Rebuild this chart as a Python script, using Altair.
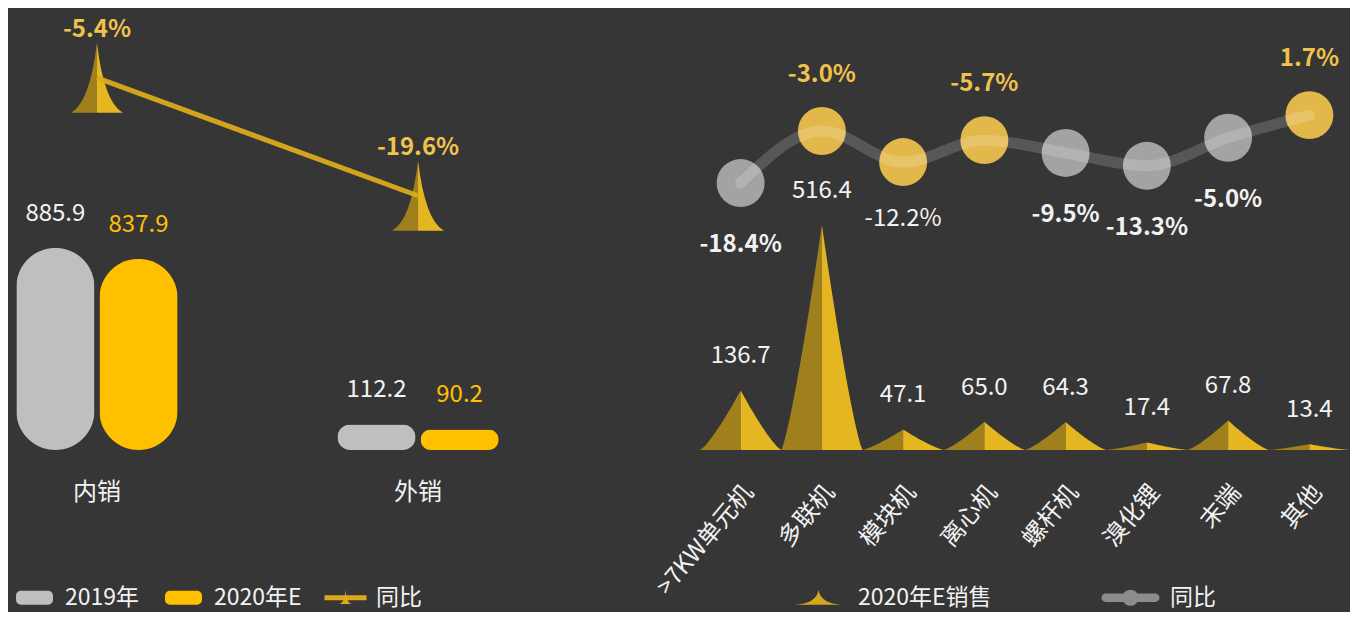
import altair as alt
import pandas as pd

# ---------------- data ----------------
cats_left = ["内销", "外销"]
sales_2019 = [885.9, 112.2]
sales_2020e = [837.9, 90.2]
yoy_left = [-5.4, -19.6]
series_left = ["2019年", "2020年E", "同比"]

cats_right = [">7KW单元机", "多联机", "模块机", "离心机", "螺杆机", "溴化锂", "末端", "其他"]
sales_right = [136.7, 516.4, 47.1, 65.0, 64.3, 17.4, 67.8, 13.4]
yoy_right = [-18.4, -3.0, -12.2, -5.7, -9.5, -13.3, -5.0, 1.7]
series_right = ["2020年E销售", "同比"]

# styling choices (which circles are gold / where labels sit)
gold_points = ["多联机", "模块机", "离心机", "其他"]
labels_above = ["多联机", "离心机", "其他"]
labels_plain = ["模块机"]

# ---------------- style ----------------
FONT = "Noto Sans CJK SC"
BG = "#363636"
WHITE = "#f2f2f2"
GRAY = "#bfbfbf"
YELLOW = "#ffc000"
GOLD_LABEL = "#f0c24b"
DARK_GOLD = "#a0801c"
BRIGHT_GOLD = "#e4b622"
LINE_GOLD = "#dcaa1c"
CIRCLE_GOLD = "#e2b84b"
CIRCLE_GRAY = "#a3a3a3"

LEFT_HALF = "M-0.74,1 Q-0.2,0.7 0,-1 L0,1 Z"
RIGHT_HALF = "M0.74,1 Q0.2,0.7 0,-1 L0,1 Z"
PILL = ("M-1.94,-1 L1.94,-1 A0.7,0.7 0 0 1 2.64,-0.3 L2.64,0.3 A0.7,0.7 0 0 1 1.94,1 "
        "L-1.94,1 A0.7,0.7 0 0 1 -2.64,0.3 L-2.64,-0.3 A0.7,0.7 0 0 1 -1.94,-1 Z")
SPIKE_LINE = "M-3,-0.36 L3,-0.36 L3,0.36 L-3,0.36 Z M-0.9,0.9 Q-0.1,0.75 0,-1.1 Q0.1,0.75 0.9,0.9 Z"
SPIKE = "M-3.43,1 Q-0.3,0.85 0,-1.1 Q0.3,0.85 3.43,1 Z"
DOT_LINE = ("M-3.54,-0.6 L3.54,-0.6 A0.6,0.6 0 0 1 3.54,0.6 L-3.54,0.6 A0.6,0.6 0 0 1 -3.54,-0.6 Z "
            "M-1.15,0 A1.15,1.15 0 1 1 1.15,0 A1.15,1.15 0 1 1 -1.15,0 Z")

PCT = "(datum.yoy < 0 ? '-' : '') + format(abs(datum.yoy), '.1f') + '%'"

# ---------------- tables ----------------
bars_df = pd.DataFrame({
    "cat": cats_left * 2,
    "series": [series_left[0]] * len(cats_left) + [series_left[1]] * len(cats_left),
    "value": sales_2019 + sales_2020e,
})
yoyL_df = pd.DataFrame({"cat": cats_left, "yoy": yoy_left})
legL_df = pd.DataFrame({"series": series_left})
right_df = pd.DataFrame({"cat": cats_right, "sales": sales_right, "yoy": yoy_right})
legR_df = pd.DataFrame({"series": series_right})

# ---------------- left panel ----------------
xL = alt.X("cat:N", sort=cats_left,
           scale=alt.Scale(paddingInner=0.446, paddingOuter=0),
           axis=alt.Axis(title=None, labelAngle=0, labelFontSize=24, labelColor=WHITE,
                         labelFont=FONT, labelPadding=30, domain=False, ticks=False, grid=False))
xOffL = alt.XOffset("series:N", sort=series_left[:2],
                    scale=alt.Scale(domain=series_left[:2], paddingInner=0.06, paddingOuter=0.1))
yBar = alt.Y("value:Q", scale=alt.Scale(domain=[0, 1938]), axis=None)
yYoyL = alt.Y("yoy:Q", scale=alt.Scale(domain=[-50.2, 3.0]), axis=None)

legend_left = alt.Legend(title=None, orient="none", legendX=1, legendY=578, direction="horizontal",
                         symbolSize=196, symbolOffset=14, labelOffset=19, columnPadding=18,
                         labelFontSize=23, labelColor=WHITE, labelFont=FONT,
                         symbolStrokeWidth=0, symbolOpacity=1, padding=0)
colorL_scale = alt.Scale(domain=series_left, range=[GRAY, YELLOW, LINE_GOLD])

is2019 = alt.datum.series == series_left[0]
bars = alt.Chart(bars_df).mark_bar(cornerRadius=39).encode(
    x=xL, xOffset=xOffL, y=yBar,
    color=alt.condition(is2019, alt.value(GRAY), alt.value(YELLOW)),
)
bar_labels = alt.Chart(bars_df).mark_text(font=FONT, fontSize=24, dy=-34, baseline="middle").encode(
    x=xL, xOffset=xOffL, y=yBar,
    text=alt.Text("value:Q", format=".1f"),
    color=alt.condition(is2019, alt.value(WHITE), alt.value(YELLOW)),
)
markL = alt.Chart(yoyL_df).mark_point(shape=LEFT_HALF, size=4900, filled=True, opacity=1,
                                      color=DARK_GOLD, strokeWidth=0).encode(x=xL, y=yYoyL)
markR = alt.Chart(yoyL_df).mark_point(shape=RIGHT_HALF, size=4900, filled=True, opacity=1,
                                      color=BRIGHT_GOLD, strokeWidth=0).encode(x=xL, y=yYoyL)
lineL = alt.Chart(yoyL_df).mark_line(color=LINE_GOLD, strokeWidth=5, opacity=0.95).encode(x=xL, y=yYoyL)
yoyL_labels = alt.Chart(yoyL_df).transform_calculate(lbl=PCT).mark_text(
    font=FONT, fontSize=24, fontWeight="bold", color=GOLD_LABEL, dy=-48).encode(
    x=xL, y=yYoyL, text="lbl:N")
legendL = alt.Chart(legL_df).transform_filter("false").mark_point(filled=True, opacity=1, strokeWidth=0).encode(
    color=alt.Color("series:N", scale=colorL_scale, legend=legend_left),
    shape=alt.Shape("series:N", scale=alt.Scale(domain=series_left, range=[PILL, PILL, SPIKE_LINE]),
                    legend=legend_left),
)

left = alt.layer(bars, bar_labels, markL, markR, lineL, yoyL_labels, legendL).resolve_scale(
    y="independent").properties(width=499, height=442)

# ---------------- right panel ----------------
EXP = 1.25
xQ = alt.Scale(domain=[0.5, len(cats_right) + 0.5], nice=False, zero=False)
ySales = alt.Y("h:Q", stack=None, scale=alt.Scale(domain=[0, 1014]), axis=None)

spike_base = (alt.Chart(right_df)
              .transform_window(idx="row_number()")
              .transform_calculate(t="sequence(0, 21)")
              .transform_flatten(["t"])
              .transform_calculate(u="datum.t / 20")
              .transform_calculate(h=f"datum.sales * pow(1 - datum.u, {EXP})"))
spike_left = spike_base.transform_calculate(px="datum.idx - 0.5 * datum.u").mark_area(
    color=DARK_GOLD, opacity=1).encode(
    x=alt.X("px:Q", scale=xQ, axis=None), y=ySales, detail="cat:N")
spike_right = spike_base.transform_calculate(px="datum.idx + 0.5 * datum.u").mark_area(
    color=BRIGHT_GOLD, opacity=1).encode(
    x=alt.X("px:Q", scale=xQ, axis=None), y=ySales, detail="cat:N")
sales_labels = alt.Chart(right_df).transform_window(idx="row_number()").mark_text(
    font=FONT, fontSize=24, color=WHITE, dy=-34).encode(
    x=alt.X("idx:Q", scale=xQ, axis=None),
    y=alt.Y("sales:Q", scale=alt.Scale(domain=[0, 1014]), axis=None),
    text=alt.Text("sales:Q", format=".1f"))
area_group = alt.layer(spike_left, spike_right, sales_labels)

xR = alt.X("cat:N", sort=cats_right, scale=alt.Scale(type="point", padding=0.5),
           axis=alt.Axis(title=None, labelAngle=-50, labelAlign="right", labelBaseline="middle",
                         labelFontSize=24, labelColor=WHITE, labelFont=FONT, labelPadding=38,
                         labelOffset=8, domain=False, ticks=False, grid=False))
yYoyR = alt.Y("yoy:Q", scale=alt.Scale(domain=[-97.4, 33.4]), axis=None)

legend_right = alt.Legend(title=None, orient="none", legendX=85, legendY=578, direction="horizontal",
                          symbolSize=196, symbolOffset=22, labelOffset=28, columnPadding=105,
                          labelFontSize=23, labelColor=WHITE, labelFont=FONT,
                          symbolStrokeWidth=0, symbolOpacity=1, padding=0)
colorR_scale = alt.Scale(domain=series_right, range=["#d2a81f", "#8c8c8c"])

circles = alt.Chart(right_df).mark_circle(size=2300, opacity=1).encode(
    x=xR, y=yYoyR,
    color=alt.condition(alt.FieldOneOfPredicate(field="cat", oneOf=gold_points),
                        alt.value(CIRCLE_GOLD), alt.value(CIRCLE_GRAY)))
lineR = alt.Chart(right_df).mark_line(color="#ffffff", opacity=0.17, strokeWidth=11,
                                      interpolate="monotone", strokeCap="round").encode(x=xR, y=yYoyR)
lbl_base = alt.Chart(right_df).transform_calculate(lbl=PCT)
above = lbl_base.transform_filter(alt.FieldOneOfPredicate(field="cat", oneOf=labels_above)).mark_text(
    font=FONT, fontSize=24, fontWeight="bold", color=GOLD_LABEL, dy=-56).encode(x=xR, y=yYoyR, text="lbl:N")
below_bold = lbl_base.transform_filter(
    {"not": alt.FieldOneOfPredicate(field="cat", oneOf=labels_above + labels_plain)}).mark_text(
    font=FONT, fontSize=24, fontWeight="bold", color=WHITE, dy=62).encode(x=xR, y=yYoyR, text="lbl:N")
below_plain = lbl_base.transform_filter(alt.FieldOneOfPredicate(field="cat", oneOf=labels_plain)).mark_text(
    font=FONT, fontSize=24, color=WHITE, dy=57).encode(x=xR, y=yYoyR, text="lbl:N")
legendR = alt.Chart(legR_df).transform_filter("false").mark_point(filled=True, opacity=1, strokeWidth=0).encode(
    color=alt.Color("series:N", scale=colorR_scale, legend=legend_right),
    shape=alt.Shape("series:N", scale=alt.Scale(domain=series_right, range=[SPIKE, DOT_LINE]),
                    legend=legend_right),
)
yoy_group = alt.layer(circles, lineR, above, below_bold, below_plain, legendR)

right = alt.layer(area_group, yoy_group).resolve_scale(x="independent", y="independent").properties(
    width=650, height=442)

chart = alt.hconcat(left, right, spacing=193, bounds="flush").resolve_scale(
    color="independent", shape="independent", x="independent", y="independent"
).resolve_legend(color="independent", shape="independent").properties(
    background=BG, padding={"left": 0, "top": 0, "right": 0, "bottom": 2}
).configure(font=FONT).configure_view(stroke=None)

chart.save("out.html", embed_options={"renderer": "svg", "actions": False})
